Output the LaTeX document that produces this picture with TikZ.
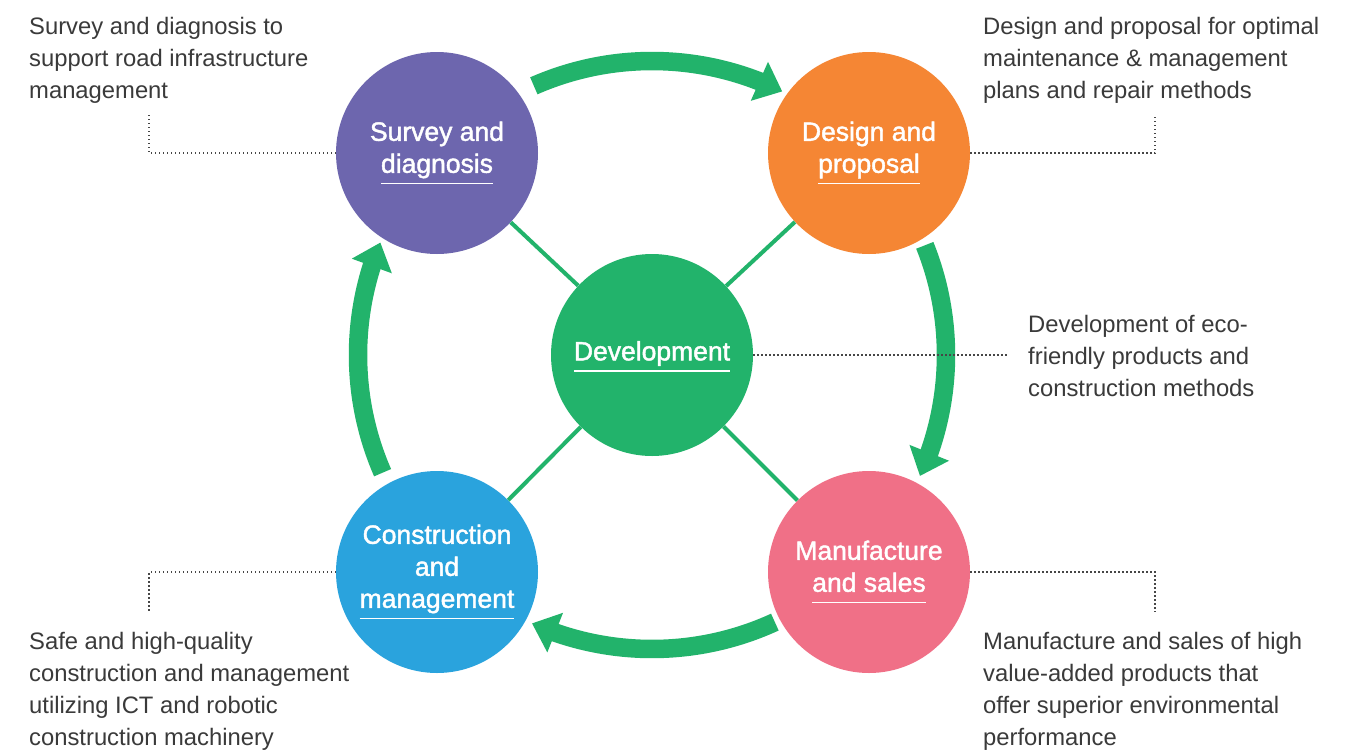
\documentclass[tikz,border=0pt]{standalone}
\usepackage{fontspec}
\setmainfont{Liberation Sans}
\newfontfamily\circfont{Liberation Sans}[FakeBold=1.6]
\usetikzlibrary{arrows.meta,bending}
\definecolor{cpurple}{RGB}{109,102,174}
\definecolor{corange}{RGB}{245,134,52}
\definecolor{cgreen}{RGB}{34,179,107}
\definecolor{cblue}{RGB}{42,163,221}
\definecolor{cpink}{RGB}{240,112,135}
\definecolor{textgray}{RGB}{58,58,58}
\definecolor{dotgray}{RGB}{70,70,70}
\newcommand\ulline[1]{\vtop{\hbox{#1\strut}\kern0.2pt\hrule height 1.8pt}}
\tikzset{
  circ/.style={circle, minimum size=202pt, inner sep=0pt, text=white, align=center,
    font=\circfont\fontsize{26.5}{32}\selectfont},
  garrow/.style={draw=cgreen, line width=18.5pt, -{Triangle[length=25pt,width=41pt]}},
  conn/.style={draw=cgreen, line width=4pt},
  dotleader/.style={draw=dotgray, line width=1.3pt, dash pattern=on 1.3pt off 2.7pt},
  annot/.style={anchor=north west, inner sep=0pt, align=left, text=textgray,
    font=\fontsize{23.8}{32}\selectfont}
}
\begin{document}
\begin{tikzpicture}[x=1pt,y=1pt]
\useasboundingbox (0,0) rectangle (1353,-750);
\fill[white] (0,0) rectangle (1353,-750);
\coordinate (ac) at (652,-355);
% arrows
\draw[garrow] (ac) ++(113.7:294) arc[start angle=113.7, end angle=63.7, radius=294];
\draw[garrow] (ac) ++(21.9:294) arc[start angle=21.9, end angle=-24.3, radius=294];
\draw[garrow] (ac) ++(-65.3:294) arc[start angle=-65.3, end angle=-114.1, radius=294];
\draw[garrow] (ac) ++(203.6:294) arc[start angle=203.6, end angle=157.5, radius=294];
% circles
\node[circ, fill=cgreen] (dev) at (652,-355) {\ulline{Development}};
\node[circ, fill=cpurple] (survey) at (437,-153) {Survey and\\\ulline{diagnosis}};
\node[circ, fill=corange] (design) at (869,-153) {Design and\\\ulline{proposal}};
\node[circ, fill=cblue] (constr) at (437,-572) {Construction\\and\\\ulline{management}};
\node[circ, fill=cpink] (manuf) at (869,-572) {Manufacture\\\ulline{and sales}};
% connectors
\draw[conn] (dev) -- (survey);
\draw[conn] (dev) -- (design);
\draw[conn] (dev) -- (constr);
\draw[conn] (dev) -- (manuf);
% leaders
\coordinate (sv) at (149,-115);
\coordinate (dv) at (1155,-115);
\coordinate (cv) at (149,-612);
\coordinate (mv) at (1155,-612);
\coordinate (devend) at (1008,-355);
\draw[dotleader] (survey.west) -| (sv);
\draw[dotleader] (design.east) -| (dv);
\draw[dotleader] (constr.west) -| (cv);
\draw[dotleader] (manuf.east) -| (mv);
\draw[dotleader] (dev.east) -- (devend);
% annotations
\node[annot] (tl) at (29,-17) {Survey and diagnosis to\\support road infrastructure\\management};
\node[annot] (tr) at (983,-17) {Design and proposal for optimal\\maintenance \& management\\plans and repair methods};
\node[annot] (rm) at (1028,-315) {Development of eco-\\friendly products and\\construction methods};
\node[annot] (bl) at (29,-632) {Safe and high-quality\\construction and management\\utilizing ICT and robotic\\construction machinery};
\node[annot] (br) at (983,-632) {Manufacture and sales of high\\value-added products that\\offer superior environmental\\performance};
\end{tikzpicture}
\end{document}
